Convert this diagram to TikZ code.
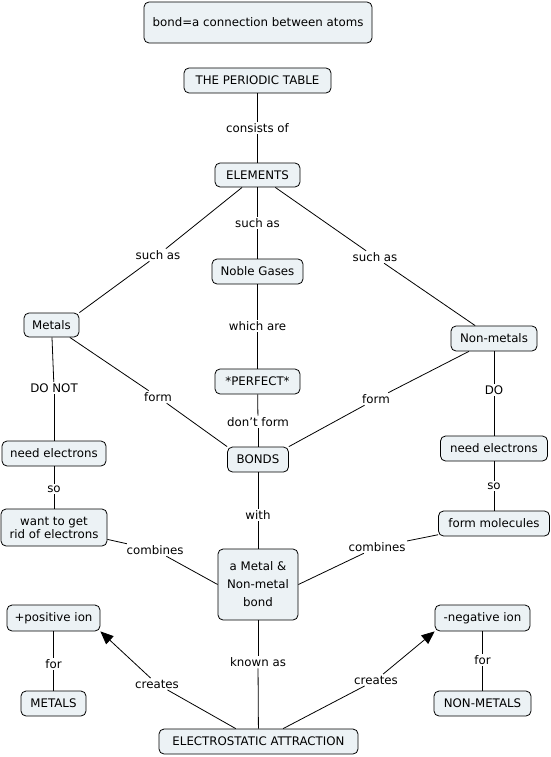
\documentclass[tikz,border=0pt]{standalone}
\usepackage{fontspec}
\setmainfont{DejaVu Sans}
\usepackage{xcolor}
\usepackage{tikz}
\usetikzlibrary{arrows.meta}

\definecolor{conceptfill}{RGB}{236,242,245}

\tikzset{
  concept/.style={draw, rounded corners=5pt, fill=conceptfill, line width=0.8pt,
    inner sep=2pt, align=center, font=\fontsize{11.8}{18}\selectfont},
  linkword/.style={inner sep=1.5pt, font=\fontsize{11.8}{14}\selectfont},
  link/.style={line width=0.8pt},
}

\begin{document}
\begin{tikzpicture}[x=1pt, y=-1pt]
        \useasboundingbox (0,0) rectangle (551,757);

        % concepts
        \node[concept, minimum width=228, minimum height=41] (bonddef) at (258,22.5) {bond=a connection between atoms};
        \node[concept, minimum width=147, minimum height=25] (table) at (257.5,80.5) {THE PERIODIC TABLE};
        \node[concept, minimum width=85, minimum height=24] (elements) at (257.5,175) {ELEMENTS};
        \node[concept, minimum width=91, minimum height=25] (noble) at (257.5,271.5) {Noble Gases};
        \node[concept, minimum width=85, minimum height=25] (perfect) at (257.5,381.5) {*PERFECT*};
        \node[concept, minimum width=61, minimum height=25] (bonds) at (258,459.5) {BONDS};
        \node[concept, minimum width=80, minimum height=71] (mnbond) at (258,584.5) {a Metal \&\\Non-metal\\bond};
        \node[concept, minimum width=199, minimum height=25] (electro) at (258.5,741.5) {ELECTROSTATIC ATTRACTION};

        \node[concept, minimum width=55, minimum height=24] (metals) at (51.5,325) {Metals};
        \node[concept, minimum width=104, minimum height=25] (needL) at (54,453.5) {need electrons};
        \node[concept, minimum width=106, minimum height=37] (getrid) at (54,527.5) {want to get\\[-5pt]rid of electrons};
        \node[concept, minimum width=93, minimum height=26] (posion) at (53.5,618) {+positive ion};
        \node[concept, minimum width=65, minimum height=25] (metalsU) at (53.5,703.5) {METALS};

        \node[concept, minimum width=86, minimum height=25] (nonmetals) at (494,338.5) {Non-metals};
        \node[concept, minimum width=107, minimum height=25] (needR) at (494,448.5) {need electrons};
        \node[concept, minimum width=111, minimum height=25] (molecules) at (494,523.5) {form molecules};
        \node[concept, minimum width=95, minimum height=26] (negion) at (482.5,618) {-negative ion};
        \node[concept, minimum width=97, minimum height=25] (nonmetalsU) at (482.5,703.5) {NON-METALS};

        % linking words
        \node[linkword] (consists) at (257.5,128) {consists of};
        \node[linkword] (suchM) at (257.5,223) {such as};
        \node[linkword] (suchL) at (158,255) {such as};
        \node[linkword] (suchR) at (375,257) {such as};
        \node[linkword] (whichare) at (257.5,326) {which are};
        \node[linkword] (dontform) at (258,422) {don't form};
        \node[linkword] (formL) at (158,397) {form};
        \node[linkword] (formR) at (376,399) {form};
        \node[linkword] (donot) at (54,388) {DO NOT};
        \node[linkword] (do) at (494,390) {DO};
        \node[linkword] (soL) at (54,489) {so};
        \node[linkword] (soR) at (494,486) {so};
        \node[linkword] (with) at (258,515) {with};
        \node[linkword] (combL) at (155,550) {combines};
        \node[linkword] (combR) at (377,547) {combines};
        \node[linkword] (knownas) at (258,662) {known as};
        \node[linkword] (createL) at (157,684) {creates};
        \node[linkword] (createR) at (376,680) {creates};
        \node[linkword] (forL) at (53.5,664) {for};
        \node[linkword] (forR) at (482.5,660) {for};

        \path[link]
        (table) edge (consists)   (consists) edge (elements)
        (elements) edge (suchM)   (suchM) edge (noble)
        (elements) edge (suchL)   (suchL) edge (metals.north east)
        (elements) edge (suchR)   (suchR) edge (nonmetals)
        (noble) edge (whichare)   (whichare) edge (perfect)
        (perfect) edge (dontform) (dontform) edge (bonds)
        (metals) edge (formL)     (formL) edge (bonds.north west)
        (nonmetals) edge (formR)  (formR) edge (bonds.north east)
        (metals) edge (donot)     (donot) edge (needL)
        (needL) edge (soL)        (soL) edge (getrid)
        (nonmetals) edge (do)     (do) edge (needR)
        (needR) edge (soR)        (soR) edge (molecules)
        (bonds) edge (with)       (with) edge (mnbond)
        (getrid) edge (combL)     (combL) edge (mnbond.west)
        (molecules) edge (combR)  (combR) edge (mnbond.east)
        (mnbond) edge (knownas)   (knownas) edge (electro)
        (posion) edge (forL)      (forL) edge (metalsU)
        (negion) edge (forR)      (forR) edge (nonmetalsU)
        (electro) edge (createL)
        (electro) edge (createR);

        \path[link, -{Triangle[length=13pt, width=11pt]}]
        (createL) edge (posion.south east)
        (createR) edge (negion.south west);

    \end{tikzpicture}
\end{document}
